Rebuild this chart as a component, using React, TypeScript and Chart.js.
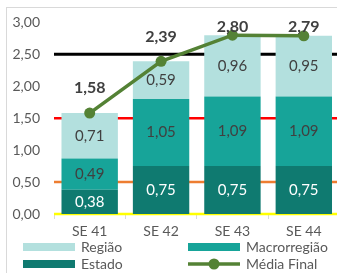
import React, { useEffect, useRef } from "react";
import { Chart, registerables } from "chart.js";

Chart.register(...registerables);

const categories = ["SE 41", "SE 42", "SE 43", "SE 44"];
const estado = [0.38, 0.75, 0.75, 0.75];
const macrorregiao = [0.49, 1.05, 1.09, 1.09];
const regiao = [0.71, 0.59, 0.96, 0.95];
const mediaFinal = [1.58, 2.39, 2.8, 2.79];
const yTicks = [0, 0.5, 1, 1.5, 2, 2.5, 3];
const refLines = [
  { value: 2.5, color: "#000000", width: 3 },
  { value: 1.5, color: "#ff0000", width: 2.5 },
  { value: 0.5, color: "#ed7d31", width: 2.5 },
  { value: 0, color: "#ffff00", width: 2.5 },
];

const FONT = "Lato, 'Noto Sans', sans-serif";
const C_REG = "#b3e0de";
const C_MAC = "#17a499";
const C_EST = "#0f7a70";
const C_LINE = "#548235";
const fmt = (v: number) => v.toFixed(2).replace(".", ",");

export default function App() {
  const ref = useRef<HTMLCanvasElement | null>(null);
  useEffect(() => {
    const canvas = ref.current;
    if (!canvas) return;
    const refPlugin = {
      id: "refLines",
      beforeDatasetsDraw(chart: any) {
        const { ctx, chartArea } = chart;
        const y = chart.scales.y;
        ctx.save();
        refLines.forEach((r) => {
          const py = y.getPixelForValue(r.value);
          ctx.strokeStyle = r.color;
          ctx.lineWidth = r.width;
          ctx.beginPath();
          ctx.moveTo(chartArea.left, py);
          ctx.lineTo(chartArea.right, py);
          ctx.stroke();
        });
        ctx.restore();
      },
    };
    const labelPlugin = {
      id: "labels",
      afterDatasetsDraw(chart: any) {
        const { ctx, chartArea } = chart;
        ctx.save();
        ctx.textAlign = "center";
        ctx.textBaseline = "middle";
        chart.data.datasets.forEach((ds: any, di: number) => {
          const meta = chart.getDatasetMeta(di);
          meta.data.forEach((el: any, i: number) => {
            const v = ds.data[i];
            if (ds.type === "line") {
              ctx.font = `bold 16px ${FONT}`;
              ctx.fillStyle = "#404040";
              const ly = Math.max(el.y - 25, chartArea.top + 4);
              ctx.fillText(fmt(v), el.x, ly);
            } else {
              ctx.font = `15px ${FONT}`;
              ctx.fillStyle = ds.label === "Estado" ? "#ffffff" : "#404040";
              const cy = (el.y + el.base) / 2;
              ctx.fillText(fmt(v), el.x, cy);
            }
          });
        });
        ctx.restore();
      },
      afterDraw(chart: any) {
        const { ctx } = chart;
        ctx.save();
        ctx.font = `14px ${FONT}`;
        ctx.textBaseline = "middle";
        ctx.textAlign = "left";
        const items = [
          { label: "Região", color: C_REG, x: 23, y: 247, line: false },
          { label: "Macrorregião", color: C_MAC, x: 188, y: 247, line: false },
          { label: "Estado", color: C_EST, x: 23, y: 264, line: false },
          { label: "Média Final", color: C_LINE, x: 188, y: 264, line: true },
        ];
        items.forEach((it) => {
          if (it.line) {
            ctx.strokeStyle = it.color;
            ctx.lineWidth = 3.5;
            ctx.beginPath();
            ctx.moveTo(it.x, it.y);
            ctx.lineTo(it.x + 52, it.y);
            ctx.stroke();
            ctx.fillStyle = it.color;
            ctx.beginPath();
            ctx.arc(it.x + 26, it.y, 5.5, 0, Math.PI * 2);
            ctx.fill();
          } else {
            ctx.fillStyle = it.color;
            ctx.fillRect(it.x, it.y - 4, 52, 8);
          }
          ctx.fillStyle = "#595959";
          ctx.fillText(it.label, it.x + 58, it.y + 0.5);
        });
        ctx.restore();
      },
    };
    const chart = new Chart(canvas, {
      type: "bar",
      data: {
        labels: categories,
        datasets: [
          {
            type: "line",
            label: "Média Final",
            data: mediaFinal,
            borderColor: C_LINE,
            backgroundColor: C_LINE,
            borderWidth: 3.5,
            pointRadius: 5.5,
            pointBackgroundColor: C_LINE,
            pointBorderWidth: 0,
            stack: "line",
            order: 0,
            tension: 0,
          } as any,
          { label: "Estado", data: estado, backgroundColor: C_EST, stack: "bars", order: 1 },
          { label: "Macrorregião", data: macrorregiao, backgroundColor: C_MAC, stack: "bars", order: 1 },
          { label: "Região", data: regiao, backgroundColor: C_REG, stack: "bars", order: 1 },
        ],
      },
      options: {
        responsive: false,
        animation: false,
        layout: { padding: { left: 0, right: 3, top: 21, bottom: 35 } },
        datasets: { bar: { barPercentage: 0.79, categoryPercentage: 1 } },
        plugins: { legend: { display: false }, tooltip: { enabled: false } },
        scales: {
          x: {
            stacked: true,
            grid: { drawOnChartArea: false, drawTicks: true, tickLength: 5, color: "#d9d9d9" },
            border: { display: true, color: "#d9d9d9", width: 1 },
            ticks: { color: "#595959", font: { family: FONT, size: 14 }, padding: 4 },
            afterFit: (s: any) => { s.height = 24; },
          },
          y: {
            stacked: true,
            min: 0,
            max: 3,
            afterBuildTicks: (s: any) => { s.ticks = yTicks.map((v) => ({ value: v })); },
            grid: { display: false, drawTicks: false },
            border: { display: false },
            ticks: {
              color: "#595959",
              font: { family: FONT, size: 14 },
              padding: 14,
              callback: (v: any) => fmt(Number(v)),
            },
            afterFit: (s: any) => { s.width = 54; },
          },
        },
      },
      plugins: [refPlugin, labelPlugin],
    });
    return () => chart.destroy();
  }, []);
  return (
    <div style={{ position: "fixed", left: 0, top: 0, width: 337, height: 273, overflow: "hidden", background: "#fff" }}>
      <div style={{ position: "absolute", left: 6, top: 7, width: 400, height: 400, border: "1px solid #d9d9d9", boxSizing: "border-box" }} />
      <canvas ref={ref} width={345} height={273} style={{ position: "absolute", left: 0, top: 0, width: 345, height: 273 }} />
    </div>
  );
}
